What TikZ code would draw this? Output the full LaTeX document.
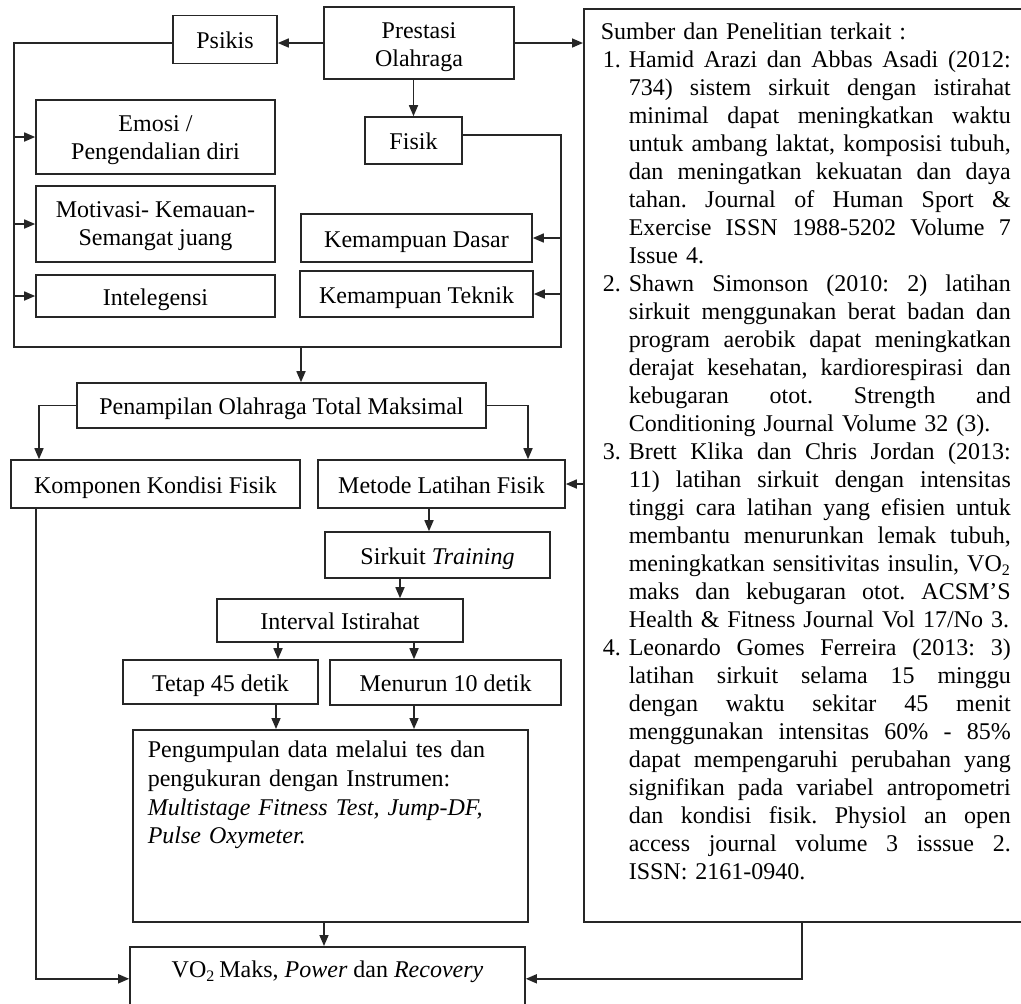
\documentclass[tikz,border=0pt]{standalone}
\usepackage{fontspec}
\setmainfont{Liberation Serif}
\usetikzlibrary{arrows.meta}
\newcommand\RSnum[2]{\makebox[14pt][l]{\hspace{1pt}#1}\makebox[191pt][s]{\frenchspacing\spaceskip=0pt\xspaceskip=0pt #2}}
\newcommand\RSfull[1]{\hspace*{14pt}\makebox[191pt][s]{\frenchspacing\spaceskip=0pt\xspaceskip=0pt #1}}
\newcommand\RSlast[1]{\hspace*{14pt}#1}
\begin{document}
\begin{tikzpicture}[x=0.5pt,y=-0.5pt,
  bx/.style={draw=black!85, line width=0.8pt, font=\fontsize{12}{13.8}\selectfont, inner sep=0pt, align=center},
  one/.style={text height=10pt, text depth=1pt},
  arr/.style={draw=black!85, line width=0.8pt, -{Triangle[length=5.5pt,width=4.5pt]}},
  ln/.style={draw=black!85, line width=0.8pt}]
\useasboundingbox (0,0) rectangle (1021,1003);

\node[bx, minimum width=95pt, minimum height=36pt] (prestasi) at (419,43) {\rule{0pt}{12.2pt}Prestasi\\Olahraga};
\node[bx, one, minimum width=52pt, minimum height=24pt] (psikis) at (225,39.5) {Psikis};
\node[bx, one, minimum width=48.5pt, minimum height=23.5pt] (fisik) at (413.5,140.5) {Fisik};
\node[bx, minimum width=119.5pt, minimum height=37pt] (emosi) at (155.5,137) {\rule{0pt}{11.2pt}Emosi /\\Pengendalian diri};
\node[bx, minimum width=119.5pt, minimum height=38pt] (motivasi) at (155.5,224) {\rule{0pt}{10.3pt}Motivasi- Kemauan-\\Semangat juang};
\node[bx, one, minimum width=119.5pt, minimum height=21pt] (intel) at (155.5,296) {Intelegensi};
\node[bx, one, minimum width=115.5pt, minimum height=24pt] (dasar) at (416.5,238) {Kemampuan Dasar};
\node[bx, one, minimum width=116.5pt, minimum height=23pt] (teknik) at (416.5,294) {Kemampuan Teknik};
\node[bx, one, minimum width=204.5pt, minimum height=22.5pt] (tampil) at (281.5,405.5) {Penampilan Olahraga Total Maksimal};
\node[bx, one, minimum width=144.5pt, minimum height=24pt] (komponen) at (155.5,484) {Komponen Kondisi Fisik};
\node[bx, one, minimum width=123.5pt, minimum height=24pt] (metode) at (441.5,484) {Metode Latihan Fisik};
\node[bx, one, minimum width=112.5pt, minimum height=23pt] (sirkuit) at (437.5,555) {Sirkuit \textit{Training}};
\node[bx, one, minimum width=123pt, minimum height=21.5pt] (interval) at (340,620.5) {Interval Istirahat};
\node[bx, one, minimum width=97.5pt, minimum height=22pt] (tetap) at (220.5,682) {Tetap 45 detik};
\node[bx, one, minimum width=115.5pt, minimum height=22.5pt] (menurun) at (445.5,682.5) {Menurun 10 detik};
\node[bx, anchor=north west, text width=182.5pt, align=left, inner xsep=7.5pt, inner ysep=5.5pt,
  text height=8.5pt, text depth=76.5pt, font=\fontsize{12}{14.3}\selectfont] (peng) at (132,729)
  {Pengumpulan data melalui tes dan\\pengukuran dengan Instrumen:\\\textit{Multistage Fitness Test, Jump-DF,}\\\textit{Pulse Oxymeter.}};
\node[bx, anchor=north, minimum width=197.5pt, inner ysep=7pt, text height=8.5pt, text depth=9.5pt] (vo2) at (327.5,946)
  {VO\textsubscript{2}\,Maks, \textit{Power} dan \textit{Recovery}};

\node[bx, anchor=north west, text width=205pt, align=left, inner xsep=8.5pt, inner ysep=7pt,
  text height=8.5pt, text depth=434pt, font=\fontsize{12}{14}\selectfont] (rbox) at (583,8) {%
Sumber dan Penelitian terkait :\\
\RSnum{1.}{Hamid Arazi dan Abbas Asadi (2012:}\\
\RSfull{734) sistem sirkuit dengan istirahat}\\
\RSfull{minimal dapat meningkatkan waktu}\\
\RSfull{untuk ambang laktat, komposisi tubuh,}\\
\RSfull{dan meningatkan kekuatan dan daya}\\
\RSfull{tahan. Journal of Human Sport \&}\\
\RSfull{Exercise ISSN 1988-5202 Volume 7}\\
\RSlast{Issue 4.}\\
\RSnum{2.}{Shawn Simonson (2010: 2) latihan}\\
\RSfull{sirkuit menggunakan berat badan dan}\\
\RSfull{program aerobik dapat meningkatkan}\\
\RSfull{derajat kesehatan, kardiorespirasi dan}\\
\RSfull{kebugaran otot. Strength and}\\
\RSlast{Conditioning Journal Volume 32 (3).}\\
\RSnum{3.}{Brett Klika dan Chris Jordan (2013:}\\
\RSfull{11) latihan sirkuit dengan intensitas}\\
\RSfull{tinggi cara latihan yang efisien untuk}\\
\RSfull{membantu menurunkan lemak tubuh,}\\
\RSfull{meningkatkan sensitivitas insulin, VO\textsubscript{2}}\\
\RSfull{maks dan kebugaran otot. ACSM’S}\\
\RSlast{Health \& Fitness Journal Vol 17/No 3.}\\
\RSnum{4.}{Leonardo Gomes Ferreira (2013: 3)}\\
\RSfull{latihan sirkuit selama 15 minggu}\\
\RSfull{dengan waktu sekitar 45 menit}\\
\RSfull{menggunakan intensitas 60\% - 85\%}\\
\RSfull{dapat mempengaruhi perubahan yang}\\
\RSfull{signifikan pada variabel antropometri}\\
\RSfull{dan kondisi fisik. Physiol an open}\\
\RSfull{access journal volume 3 isssue 2.}\\
\RSlast{ISSN: 2161-0940.}};

\coordinate (lx) at (14,347);
\coordinate (rx) at (561,347);
\coordinate (fy) at (561,135);
\coordinate (dx) at (301,347);
\coordinate (kl) at (39,460);
\coordinate (mr) at (528,460);
\coordinate (a1) at (429,0);
\coordinate (a2) at (400,0);
\coordinate (a3) at (278,0);
\coordinate (a4) at (414,0);
\coordinate (a5) at (276,0);
\coordinate (a6) at (324,0);
\coordinate (kd) at (36,0);
\coordinate (rd) at (802,0);

\draw[arr] (prestasi.west) -- (prestasi.west -| psikis.east);
\draw[arr] (prestasi.east) -- (prestasi.east -| rbox.west);
\draw[arr] (prestasi.south -| fisik.north) -- (fisik.north);
\draw[ln] (psikis.west |- prestasi.west) -- (lx |- prestasi.west) -- (lx) -- (rx) -- (fy) -- (fisik.east |- fy);
\draw[arr] (lx |- emosi.west) -- (emosi.west);
\draw[arr] (lx |- motivasi.west) -- (motivasi.west);
\draw[arr] (lx |- intel.west) -- (intel.west);
\draw[arr] (rx |- dasar.east) -- (dasar.east);
\draw[arr] (rx |- teknik.east) -- (teknik.east);
\draw[arr] (dx) -- (dx |- tampil.north);
\draw[arr] (tampil.west) -- (tampil.west -| kl) -- (kl |- komponen.north);
\draw[arr] (tampil.east) -- (tampil.east -| mr) -- (mr |- metode.north);
\draw[arr] (rbox.west |- metode.east) -- (metode.east);
\draw[arr] (metode.south -| a1) -- (sirkuit.north -| a1);
\draw[arr] (sirkuit.south -| a2) -- (interval.north -| a2);
\draw[arr] (interval.south -| a3) -- (tetap.north -| a3);
\draw[arr] (interval.south -| a4) -- (menurun.north -| a4);
\draw[arr] (tetap.south -| a5) -- (peng.north -| a5);
\draw[arr] (menurun.south -| a4) -- (peng.north -| a4);
\draw[arr] (peng.south -| a6) -- (vo2.north -| a6);
\draw[arr] (komponen.south -| kd) -- (kd |- vo2.west) -- (vo2.west);
\draw[arr] (rbox.south -| rd) -- (rd |- vo2.east) -- (vo2.east);
\end{tikzpicture}
\end{document}
